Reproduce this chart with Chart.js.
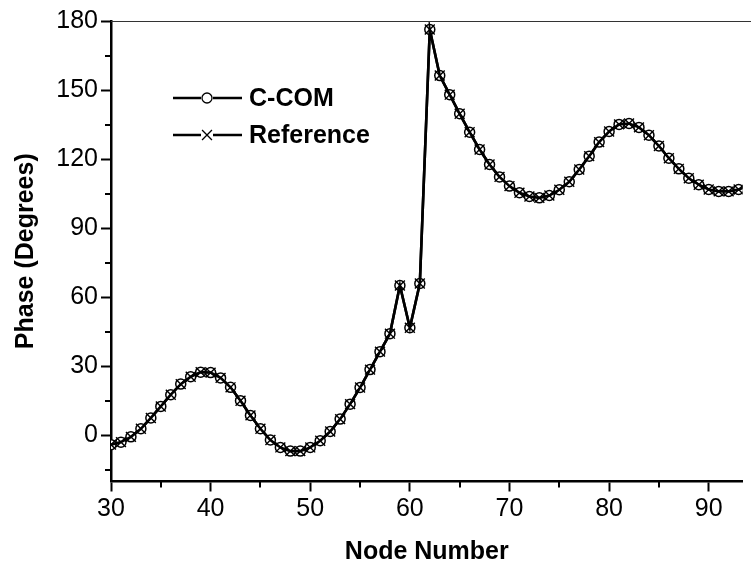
<!DOCTYPE html>
<html>
<head>
<meta charset="utf-8">
<script src="https://cdn.jsdelivr.net/npm/chart.js@4/dist/chart.umd.min.js"></script>
<style>
  html, body { margin: 0; padding: 0; background: #fff; }
  #wrap { width: 751px; height: 567px; }
</style>
</head>
<body>
<div id="wrap"><canvas id="c" width="751" height="567"></canvas></div>
<script>
// node numbers and phase values (degrees)
const nodes = [30,31,32,33,34,35,36,37,38,39,40,41,42,43,44,45,46,47,48,49,50,51,52,53,54,55,56,57,58,59,60,61,62,63,64,65,66,67,68,69,70,71,72,73,74,75,76,77,78,79,80,81,82,83,84,85,86,87,88,89,90,91,92,93,94];
const ccom = [-4.0,-2.9,-0.6,2.9,7.6,12.6,17.7,22.3,25.5,27.5,27.3,25.0,20.9,15.1,8.7,2.9,-2.0,-5.2,-6.8,-6.8,-5.2,-2.3,1.7,7.1,13.6,20.8,28.6,36.4,44.2,65.1,46.8,66.0,176.3,156.3,148.0,139.7,131.7,124.2,117.7,112.3,108.3,105.4,103.8,103.2,104.2,106.7,110.2,115.5,121.3,127.4,132.0,135.1,135.5,133.8,130.4,125.7,120.4,115.8,111.7,108.9,106.8,106.0,106.0,106.8,108.5];
const reference = [-4.0,-2.9,-0.6,2.9,7.6,12.6,17.7,22.3,25.5,27.5,27.3,25.0,20.9,15.1,8.7,2.9,-2.0,-5.2,-6.8,-6.8,-5.2,-2.3,1.7,7.1,13.6,20.8,28.6,36.4,44.2,65.1,46.8,66.0,176.3,156.3,148.0,139.7,131.7,124.2,117.7,112.3,108.3,105.4,103.8,103.2,104.2,106.7,110.2,115.5,121.3,127.4,132.0,135.1,135.5,133.8,130.4,125.7,120.4,115.8,111.7,108.9,106.8,106.0,106.0,106.8,108.5];

const xTicks = [30, 40, 50, 60, 70, 80, 90];
const xMinor = [35, 45, 55, 65, 75, 85];
const yTicks = [0, 30, 60, 90, 120, 150, 180];
const yMinor = [-15, 15, 45, 75, 105, 135, 165];

const FONT = "'Liberation Sans', Arial, Helvetica, sans-serif";

const pts = (vals) => nodes.map((n, i) => ({ x: n, y: vals[i] }));

// short minor ticks + thin top frame line
const framePlugin = {
  id: "frame",
  afterDraw(chart) {
    const { ctx, chartArea: a, scales } = chart;
    ctx.save();
    ctx.strokeStyle = "#000";
    ctx.lineWidth = 2;
    ctx.beginPath();
    yMinor.forEach((v) => {
      const y = Math.round(scales.y.getPixelForValue(v));
      ctx.moveTo(a.left - 6, y);
      ctx.lineTo(a.left, y);
    });
    xMinor.forEach((v) => {
      const x = Math.round(scales.x.getPixelForValue(v));
      ctx.moveTo(x, a.bottom);
      ctx.lineTo(x, a.bottom + 6);
    });
    ctx.stroke();
    ctx.strokeStyle = "#333";
    ctx.lineWidth = 1;
    ctx.beginPath();
    ctx.moveTo(a.left, Math.round(a.top) + 0.5);
    ctx.lineTo(chart.width, Math.round(a.top) + 0.5);
    ctx.stroke();
    ctx.restore();
  },
};

// legend drawn inside the plot: line - marker - line, then bold label
const legendPlugin = {
  id: "inlegend",
  afterDraw(chart) {
    const { ctx } = chart;
    const items = [0, 1].map((i) => chart.data.datasets[i]);
    ctx.save();
    items.forEach((ds, k) => {
      const y = 98 + k * 37;
      ctx.strokeStyle = "#000";
      ctx.lineWidth = 2.4;
      ctx.beginPath();
      ctx.moveTo(173, y);
      ctx.lineTo(201, y);
      ctx.moveTo(213, y);
      ctx.lineTo(242, y);
      ctx.stroke();
      ctx.fillStyle = "#fff";
      ctx.strokeStyle = "#000";
      ctx.lineWidth = 1.3;
      Chart.helpers.drawPoint(ctx, { pointStyle: ds.pointStyle, radius: ds.pointRadius, borderWidth: 1.3, rotation: 0 }, 207, y);
      ctx.fillStyle = "#000";
      ctx.font = "bold 25px " + FONT;
      ctx.textBaseline = "middle";
      ctx.fillText(ds.label, 249, y + 1);
    });
    ctx.restore();
  },
};

new Chart(document.getElementById("c"), {
  type: "line",
  data: {
    datasets: [
      {
        label: "C-COM",
        data: pts(ccom),
        borderColor: "#000",
        borderWidth: 2.6,
        pointStyle: "circle",
        pointRadius: 5,
        pointBorderWidth: 1.5,
        pointBackgroundColor: "#fff",
        pointBorderColor: "#000",
        tension: 0,
        order: 2,
      },
      {
        label: "Reference",
        data: pts(reference),
        borderColor: "#000",
        borderWidth: 2.6,
        pointStyle: "crossRot",
        pointRadius: 7,
        pointBorderWidth: 1.4,
        pointBorderColor: "#000",
        tension: 0,
        order: 1,
      },
    ],
  },
  options: {
    responsive: false,
    animation: false,
    layout: { padding: { top: 21, right: 0, bottom: 0, left: 0 } },
    plugins: { legend: { display: false }, tooltip: { enabled: false } },
    scales: {
      x: {
        type: "linear",
        min: 30,
        max: 93.4,
        afterBuildTicks: (s) => { s.ticks = xTicks.map((v) => ({ value: v })); },
        afterFit: (s) => { s.height = 85.5; },
        border: { color: "#000", width: 2.5 },
        grid: { drawOnChartArea: false, drawTicks: true, tickLength: 10, tickWidth: 2, tickColor: "#000" },
        ticks: { color: "#000", font: { family: FONT, size: 25 }, padding: 3, maxRotation: 0, autoSkip: false },
        title: { display: true, text: "Node Number", color: "#000", font: { family: FONT, size: 25, weight: "bold" }, padding: 0 },
      },
      y: {
        type: "linear",
        min: -20,
        max: 180,
        afterBuildTicks: (s) => { s.ticks = yTicks.map((v) => ({ value: v })); },
        afterFit: (s) => { s.width = 111; },
        border: { color: "#000", width: 2.5 },
        grid: { drawOnChartArea: false, drawTicks: true, tickLength: 10, tickWidth: 2, tickColor: "#000" },
        ticks: { color: "#000", font: { family: FONT, size: 25 }, padding: 3, autoSkip: false },
        title: { display: true, text: "Phase (Degrees)", color: "#000", font: { family: FONT, size: 25, weight: "bold" }, padding: { top: 11, bottom: 0 } },
      },
    },
  },
  plugins: [framePlugin, legendPlugin],
});
</script>
</body>
</html>
